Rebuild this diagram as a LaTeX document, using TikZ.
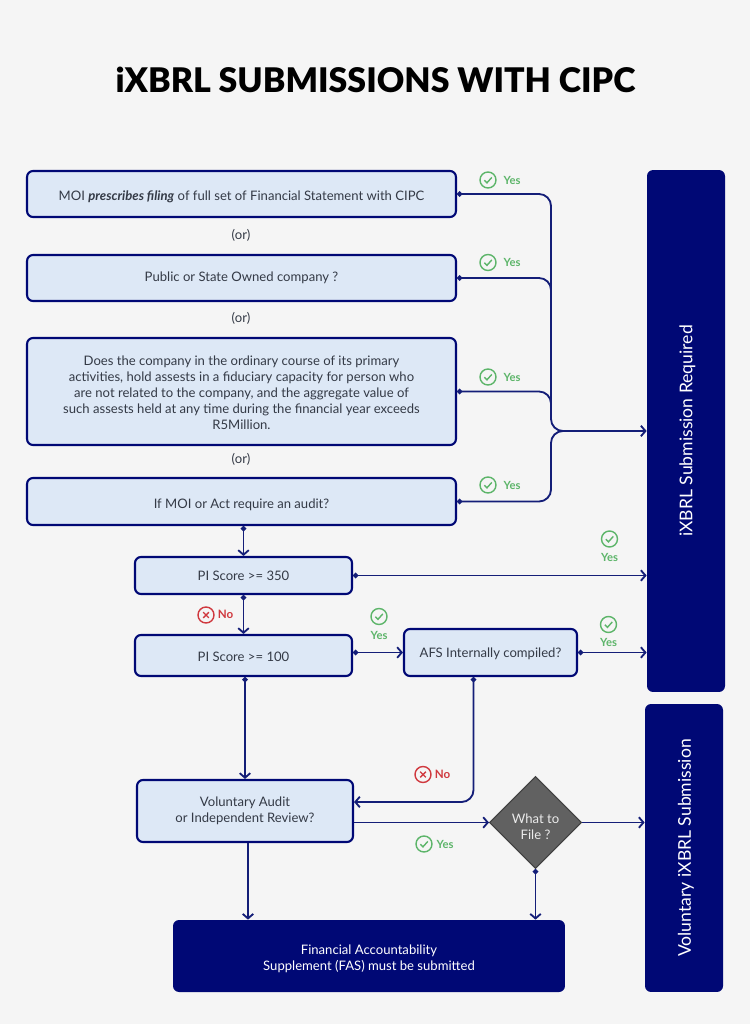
\documentclass[tikz,border=0pt]{standalone}
\usepackage{fontspec}
\setmainfont{Lato}
\newfontfamily\titlefont{Lato Black}
\usepackage{xcolor}
\usetikzlibrary{arrows.meta}
\usetikzlibrary{shapes.geometric}
\definecolor{pagegrey}{HTML}{F5F5F5}
\definecolor{boxfill}{HTML}{DDE8F6}
\definecolor{navy}{HTML}{000875}
\definecolor{linkblue}{HTML}{141E78}
\definecolor{inktext}{HTML}{343A46}
\definecolor{okgreen}{HTML}{5DB56A}
\definecolor{nored}{HTML}{D0393F}
\newcommand{\topgap}[1]{\rule{0pt}{#1}}
\tikzset{
  bodytext/.style={font=\fontsize{7.45}{9.1}\selectfont,text=inktext,align=center,inner sep=0pt},
  askbox/.style={bodytext,draw=navy,fill=boxfill,line width=1.2pt,rounded corners=3.4pt},
  bigbox/.style={font=\fontsize{7.45}{9.1}\selectfont,text=white,align=center,fill=navy,rounded corners=3.4pt,inner sep=0pt},
  sidetext/.style={font=\fontsize{10}{12}\selectfont,text=white,rotate=90,inner sep=0pt},
  yeslabel/.style={font=\bfseries\fontsize{6.4}{8}\selectfont,text=okgreen,inner sep=0pt},
  nolabel/.style={font=\bfseries\fontsize{6.6}{8}\selectfont,text=nored,inner sep=0pt},
  link/.style={draw=linkblue,line width=1.05pt,rounded corners=6.8pt},
  arrowlink/.style={link,-{Straight Barb[length=2.6pt,width=6pt]}},
  dotlink/.style={link,{Circle[length=3pt,width=3pt]}-{Straight Barb[length=2.6pt,width=6pt]}},
  okmark/.pic={
    \draw[okgreen,line width=0.8pt] (0,0) circle (8);
    \draw[okgreen,line width=0.8pt] (-3.6,0.2) -- (-1,2.8) -- (3.8,-2.6);
  },
  xmark/.pic={
    \draw[nored,line width=0.8pt] (0,0) circle (8);
    \draw[nored,line width=0.8pt] (-2.8,-2.8) -- (2.8,2.8) (-2.8,2.8) -- (2.8,-2.8);
  },
}
\begin{document}
\begin{tikzpicture}[x=0.02cm,y=-0.02cm]
  \fill[pagegrey] (0,0) rectangle (750,1024);
  \useasboundingbox (0,0) rectangle (750,1024);
  \node[font=\titlefont\fontsize{19.3}{24}\selectfont,text=black,inner sep=0pt] (title) at (375.5,80) {iXBRL SUBMISSIONS WITH CIPC};

  \node[askbox,minimum width=8.58cm,minimum height=0.92cm] (moibox) at (241.5,194) {\topgap{9pt}MOI \textbf{\textit{prescribes filing}} of full set of Financial Statement with CIPC};
  \node[bodytext] (ora) at (241,235) {(or)};
  \node[askbox,minimum width=8.58cm,minimum height=0.92cm] (publicbox) at (241.5,278) {Public or State Owned company ?};
  \node[bodytext] (orb) at (241,318) {(or)};
  \node[askbox,minimum width=8.58cm,minimum height=2.14cm] (assetbox) at (241.5,391.5) {\topgap{6.7pt}Does the company in the ordinary course of its primary\\activities, hold assests in a fiduciary capacity for person who\\are not related to the company, and the aggregate value of\\such assests held at any time during the financial year exceeds\\R5Million.};
  \node[bodytext] (orc) at (241,459) {(or)};
  \node[askbox,minimum width=8.58cm,minimum height=0.94cm] (auditbox) at (241.5,501.5) {\topgap{9pt}If MOI or Act require an audit?};

  \node[askbox,minimum width=4.34cm,minimum height=0.74cm] (scorehigh) at (243.5,575.5) {PI Score >= 350};
  \node[askbox,minimum width=4.34cm,minimum height=0.82cm] (scorelow) at (243.5,655.5) {\topgap{6.7pt}PI Score >= 100};
  \node[askbox,minimum width=3.46cm,minimum height=0.94cm] (afsbox) at (490.5,652.5) {\topgap{6.7pt}AFS Internally compiled?};
  \node[askbox,minimum width=4.32cm,minimum height=1.24cm] (voluntary) at (245,811) {Voluntary Audit\\or Independent Review?};
  \node[diamond,draw=black!75,fill=black!62,line width=0.6pt,minimum width=1.84cm,minimum height=1.84cm,inner sep=0pt,align=center,text=white!92!black,font=\fontsize{7.45}{9.1}\selectfont] (whatfile) at (535.5,822.5) {\topgap{10pt}What to\\File ?};
  \node[bigbox,minimum width=7.84cm,minimum height=1.44cm] (fasbox) at (369,956) {\topgap{9pt}Financial Accountability\\Supplement (FAS) must be submitted};
  \node[bigbox,minimum width=1.56cm,minimum height=10.44cm] (required) at (686,431) {};
  \node[sidetext] (requiredtext) at (687.5,431) {iXBRL Submission Required};
  \node[bigbox,minimum width=1.56cm,minimum height=5.76cm] (volsub) at (684,848) {};
  \node[sidetext] (volsubtext) at (686,848) {Voluntary iXBRL Submission};

  \coordinate (bus) at (551,431);
  \coordinate (afsturn) at (473.5,802);

  \draw[link,{Circle[length=3pt,width=3pt]}-{Straight Barb[length=2.6pt,width=6pt]}] (moibox.east) -- (moibox.east -| bus) -- (bus) -- (required.west);
  \draw[link,{Circle[length=3pt,width=3pt]}-] (publicbox.east) -- (publicbox.east -| bus) -- ([yshift=-8pt]publicbox.east -| bus);
  \draw[link,{Circle[length=3pt,width=3pt]}-] (assetbox.east) -- (assetbox.east -| bus) -- ([yshift=-8pt]assetbox.east -| bus);
  \draw[link,{Circle[length=3pt,width=3pt]}-] (auditbox.east) -- (auditbox.east -| bus) -- (bus) -- ([xshift=8pt]bus);

  \draw[dotlink] (scorehigh.north |- auditbox.south) -- (scorehigh.north);
  \draw[dotlink] (scorehigh.south) -- (scorelow.north);
  \draw[dotlink] (scorehigh.east) -- (required.west |- scorehigh.east);
  \draw[dotlink] (scorelow.east |- afsbox.west) -- (afsbox.west);
  \draw[dotlink] (afsbox.east) -- (required.west |- afsbox.east);
  \draw[dotlink] (voluntary.north |- scorelow.south) -- (voluntary.north);
  \draw[dotlink] (afsturn |- afsbox.south) -- (afsturn) -- (voluntary.east |- afsturn);
  \draw[arrowlink] (voluntary.east |- whatfile.west) -- (whatfile.west);
  \draw[arrowlink] (whatfile.east) -- (volsub.west |- whatfile.east);
  \draw[dotlink] (whatfile.south) -- (whatfile.south |- fasbox.north);
  \draw[arrowlink] ([xshift=1.7pt]voluntary.south) -- ([xshift=1.7pt]voluntary.south |- fasbox.north);

  \pic at (488,180) {okmark};
  \node[yeslabel] (yesa) at (512,180.5) {Yes};
  \pic at (488,262.5) {okmark};
  \node[yeslabel] (yesb) at (512,262.5) {Yes};
  \pic at (488,377) {okmark};
  \node[yeslabel] (yesc) at (512,377.5) {Yes};
  \pic at (488,485) {okmark};
  \node[yeslabel] (yesd) at (512,485.5) {Yes};
  \pic at (609.5,539) {okmark};
  \node[yeslabel] (yese) at (609.5,557.5) {Yes};
  \pic at (379,616.5) {okmark};
  \node[yeslabel] (yesf) at (379,635) {Yes};
  \pic at (608.5,624.5) {okmark};
  \node[yeslabel] (yesg) at (608.5,642.5) {Yes};
  \pic at (424,844) {okmark};
  \node[yeslabel] (yesh) at (445,844) {Yes};
  \pic at (206,615) {xmark};
  \node[nolabel] (noa) at (225.5,614.5) {No};
  \pic at (423,774.5) {xmark};
  \node[nolabel] (nob) at (442.5,774.5) {No};
\end{tikzpicture}
\end{document}
